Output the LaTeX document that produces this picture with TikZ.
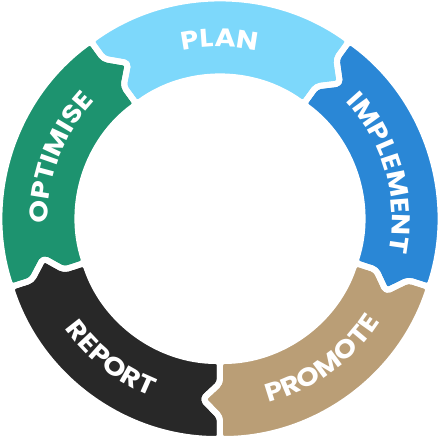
\documentclass[tikz,border=0pt]{standalone}
\usepackage{fontspec}
\setmainfont{Poppins}
\newfontfamily\lblfont{Poppins}[FakeStretch=1.13]
\usetikzlibrary{decorations.text}
\definecolor{cplan}{RGB}{125,216,251}
\definecolor{cimpl}{RGB}{42,135,214}
\definecolor{cprom}{RGB}{186,158,118}
\definecolor{crep}{RGB}{40,40,40}
\definecolor{copt}{RGB}{29,147,111}
\newcommand\ringseg[1]{%
 ({#1+36}:220pt) arc[start angle={#1+36}, end angle={#1-36}, radius=220pt]
 -- ({#1-36}:198pt) -- ({#1-41.5}:181pt) -- ({#1-36}:164pt) -- ({#1-36}:142pt)
 arc[start angle={#1-36}, end angle={#1+36}, radius=142pt]
 -- ({#1+36}:164pt) -- ({#1+30.5}:181pt) -- ({#1+36}:198pt) -- cycle}
\tikzset{
  segfill/.style={fill=#1, rounded corners=4pt},
  segline/.style={draw=white, line width=6pt, rounded corners=4pt, line join=round},
  lbl/.style={decorate, decoration={text along path, text align=center,
     text color=white, text={|\lblfont\bfseries\fontsize{25.5}{25.5}\selectfont|#1}}}
}
\begin{document}
\begin{tikzpicture}
\useasboundingbox (-220pt,-220pt) rectangle (220pt,219pt);
\fill[segfill=cplan] \ringseg{90};
\fill[segfill=cimpl] \ringseg{18};
\fill[segfill=cprom] \ringseg{-54};
\fill[segfill=crep] \ringseg{-126};
\fill[segfill=copt] \ringseg{162};
\foreach \c in {90,18,-54,-126,162}{
  \draw[segline] \ringseg{\c};
}
\path[lbl=PLAN] (125:172pt) arc[start angle=125, end angle=55, radius=172pt];
\path[lbl=IMPLEMENT] (56:172pt) arc[start angle=56, end angle=-24, radius=172pt];
\path[lbl=OPTIMISE] (199:172pt) arc[start angle=199, end angle=119, radius=172pt];
\path[lbl=PROMOTE] (-94:190pt) arc[start angle=-94, end angle=-14, radius=190pt];
\path[lbl=REPORT] (-168:190pt) arc[start angle=-168, end angle=-88, radius=190pt];
\end{tikzpicture}
\end{document}
